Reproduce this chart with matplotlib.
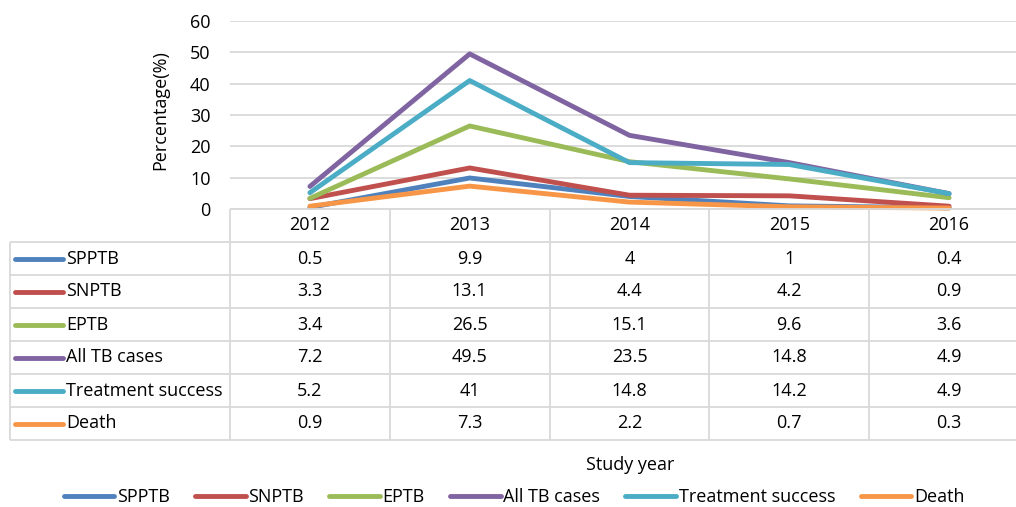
import numpy as np
import matplotlib
matplotlib.use("Agg")
import matplotlib.pyplot as plt

plt.rcParams["font.family"] = ["Open Sans", "DejaVu Sans"]

years = ["2012", "2013", "2014", "2015", "2016"]
series_names = ["SPPTB", "SNPTB", "EPTB", "All TB cases", "Treatment success", "Death"]
spptb = [0.5, 9.9, 4, 1, 0.4]
snptb = [3.3, 13.1, 4.4, 4.2, 0.9]
eptb = [3.4, 26.5, 15.1, 9.6, 3.6]
all_tb = [7.2, 49.5, 23.5, 14.8, 4.9]
treatment_success = [5.2, 41, 14.8, 14.2, 4.9]
death = [0.9, 7.3, 2.2, 0.7, 0.3]
series_values = [spptb, snptb, eptb, all_tb, treatment_success, death]
colors = ["#4F81BD", "#C0504D", "#9BBB59", "#8064A2", "#4BACC6", "#F79646"]

W, H = 1016, 507
fs = 13
grid_c = "#d9d9d9"


def box(l, t, r, b):
    return [l / W, 1 - b / H, (r - l) / W, (b - t) / H]


fig = plt.figure(figsize=(W / 100, H / 100), dpi=100)

# chart area
ax = fig.add_axes(box(230, 21, 1029, 209))
x = np.arange(len(years))
lines = []
for name, vals, c in zip(series_names, series_values, colors):
    (ln,) = ax.plot(x, vals, color=c, lw=3.5, solid_capstyle="round",
                    label=name, clip_on=False, zorder=3)
    lines.append(ln)
ax.set_xlim(-0.5, 4.5)
ax.set_ylim(0, 60)
ax.set_yticks(range(0, 61, 10))
ax.set_xticks([])
ax.yaxis.grid(True, color=grid_c, lw=1.3)
ax.set_axisbelow(True)
for s in ax.spines.values():
    s.set_visible(False)
ax.tick_params(axis="y", length=0, pad=14, labelsize=fs)
fig.text(160 / W, 1 - 110 / H, "Percentage(%)", rotation=90,
         ha="center", va="center", fontsize=fs)

# data table below chart
tab = fig.add_axes(box(10, 209, 1029, 440))
col_w = 799 / 5
x_left = -0.5 - 220 / col_w
tab.set_xlim(x_left, 4.5)
tab.set_ylim(7, 0)
tab.axis("off")
tab.hlines(0, -0.5, 4.5, color=grid_c, lw=1.3, clip_on=False)
tab.hlines(np.arange(1, 8), x_left, 4.5, color=grid_c, lw=1.3, clip_on=False)
tab.vlines(np.arange(len(years)) - 0.5, 0, 7, color=grid_c, lw=1.3, clip_on=False)
tab.vlines(x_left, 1, 7, color=grid_c, lw=1.3, clip_on=False)
for i, yr in enumerate(years):
    tab.text(i, 0.5, yr, ha="center", va="center", fontsize=fs)
key_x0 = x_left + 5 / col_w
key_x1 = x_left + 53 / col_w
for r, (name, vals, c) in enumerate(zip(series_names, series_values, colors)):
    yy = r + 1.5
    tab.plot([key_x0, key_x1], [yy, yy], color=c, lw=3.5, solid_capstyle="round")
    tab.text(key_x1 + 3 / col_w, yy, name, ha="left", va="center", fontsize=fs)
    for i, v in enumerate(vals):
        tab.text(i, yy, f"{v:g}", ha="center", va="center", fontsize=fs)

fig.text(630 / W, 1 - 465 / H, "Study year", ha="center", va="center", fontsize=fs)
fig.legend(handles=lines, loc="center", bbox_to_anchor=(514 / W, 1 - 497 / H),
           ncol=6, frameon=False, fontsize=fs, handlelength=2.8,
           handletextpad=0.15, columnspacing=1.4, borderpad=0)

fig.savefig("out.png", dpi=100)
